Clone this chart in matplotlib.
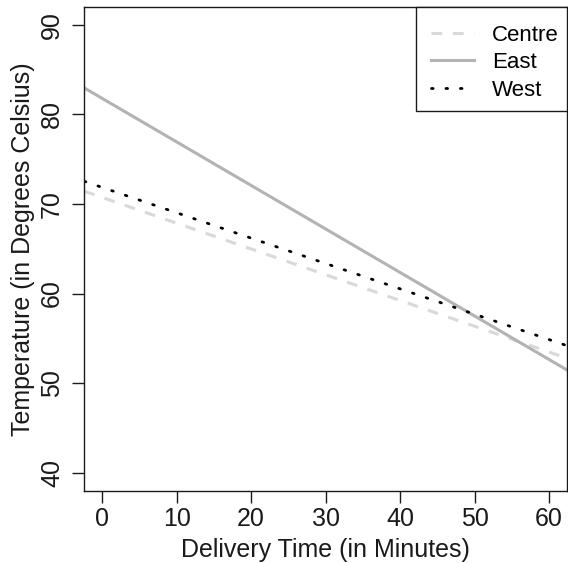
import matplotlib
matplotlib.use("Agg")
import matplotlib.pyplot as plt
from matplotlib.patches import Rectangle

plt.rcParams['font.family'] = ['Liberation Sans', 'DejaVu Sans']

# Data: fitted regression lines (intercept at 0 minutes, slope per minute)
series_names = ['Centre', 'East', 'West']
intercepts = [70.72, 81.77, 71.84]
slopes = [-0.2875, -0.4856, -0.283]
x_ticks = [0, 10, 20, 30, 40, 50, 60]
y_ticks = [40, 50, 60, 70, 80, 90]

fig = plt.figure(figsize=(5.68, 5.63), dpi=100)
ax = fig.add_axes([84.3/568, 1 - 490.7/563, (567 - 84.3)/568, (490.7 - 6.7)/563])

styles = [
    dict(color='#d9d9d9', lw=2.2, linestyle=(0, (3.5, 3.5))),
    dict(color='#b3b3b3', lw=2.2, linestyle='-'),
    dict(color='black', lw=2.0, linestyle=(0, (0.6, 4.6)), dash_capstyle='round'),
]
for name, b, m, st in zip(series_names, intercepts, slopes, styles):
    ax.axline((0, b), slope=m, label=name, **st)

ax.set_xlim(-2.4, 62.4)
ax.set_ylim(38, 92)
ax.set_xticks(x_ticks)
ax.set_yticks(y_ticks)
ax.tick_params(axis='both', length=8.5, width=1, labelsize=18, colors='#1a1a1a')
ax.tick_params(axis='x', pad=3)
ax.tick_params(axis='y', pad=6)
for lbl in ax.get_yticklabels():
    lbl.set_rotation(90)
    lbl.set_va('center')
for sp in ax.spines.values():
    sp.set_linewidth(1)
    sp.set_color('#1a1a1a')

ax.set_xlabel('Delivery Time (in Minutes)', fontsize=18, labelpad=5, color='#1a1a1a')
ax.set_ylabel('Temperature (in Degrees Celsius)', fontsize=18, labelpad=4, color='#1a1a1a')

# legend box (R-style, flush with the top-right corner)
ax.add_patch(Rectangle((0.6872, 0.7851), 1 - 0.6872, 1 - 0.7851, transform=ax.transAxes,
                       facecolor='white', edgecolor='#1a1a1a', lw=1, zorder=4, clip_on=False))
leg = ax.legend(loc='upper right', bbox_to_anchor=(0.9834, 0.9632), fontsize=16,
                frameon=False, borderpad=0, handlelength=1.95, handletextpad=0.8,
                labelspacing=0.3, borderaxespad=0)
leg.set_zorder(5)

fig.savefig('out.png', dpi=100)
